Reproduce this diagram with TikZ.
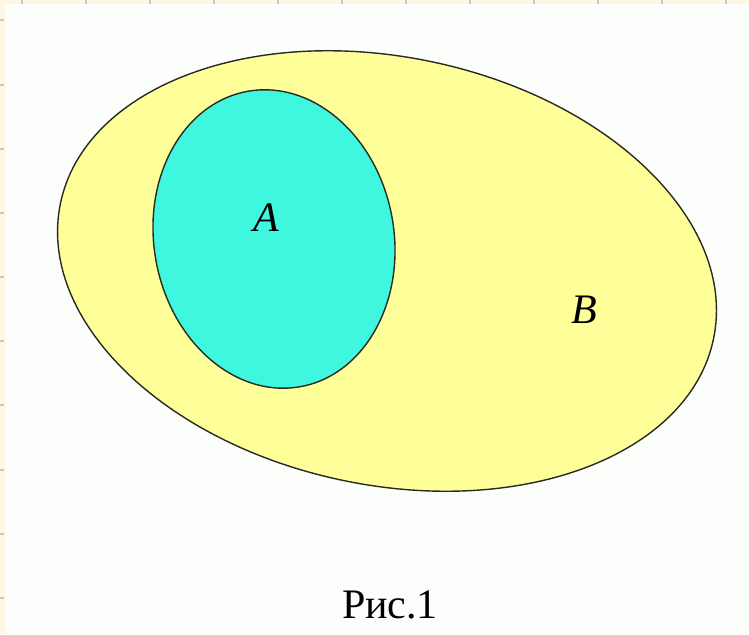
\documentclass[tikz,border=0pt]{standalone}
\usepackage{fontspec}
\setmainfont{Liberation Serif}
\usetikzlibrary{shapes.geometric}
\definecolor{cream}{HTML}{FFF7E3}
\definecolor{paper}{HTML}{FBFEFB}
\definecolor{tickgray}{HTML}{C8C8C8}
\definecolor{setyellow}{HTML}{FFFF99}
\definecolor{setcyan}{HTML}{3FF7DF}
\definecolor{outline}{HTML}{2A2A20}
\tikzset{
  setshape/.style={ellipse, draw=outline, line width=1.4pt, inner sep=0pt},
  setlabel/.style={font=\fontsize{42}{42}\selectfont\itshape, text=black},
  caption/.style={font=\fontsize{42}{42}\selectfont, text=black},
  tickmark/.style={draw=tickgray, line width=1.5pt}
}
\begin{document}
\begin{tikzpicture}[x=1pt,y=-1pt]
\useasboundingbox (0,0) rectangle (749,634);
\fill[cream] (0,0) rectangle (749,634);
\fill[paper] (5,4) rectangle (749,634);
\foreach \t in {22,86,150,214,278,342,406,470,534,598,662,726}
  \draw[tickmark] (\t,0) -- (\t,4);
\foreach \t in {20,85,149,213,277,341,405,470,534,598}
  \draw[tickmark] (0,\t) -- (4,\t);
\node[setshape, fill=setyellow, minimum width=667pt, minimum height=428pt, rotate=-11.7] (B) at (387,271) {};
\node[setshape, fill=setcyan, minimum width=240pt, minimum height=300pt, rotate=10] (A) at (274,239) {};
\node[setlabel] (la) at (266,218) {A};
\node[setlabel] (lb) at (584,310) {B};
\node[caption] (cap) at (390,605) {Рис.1};
\end{tikzpicture}
\end{document}
